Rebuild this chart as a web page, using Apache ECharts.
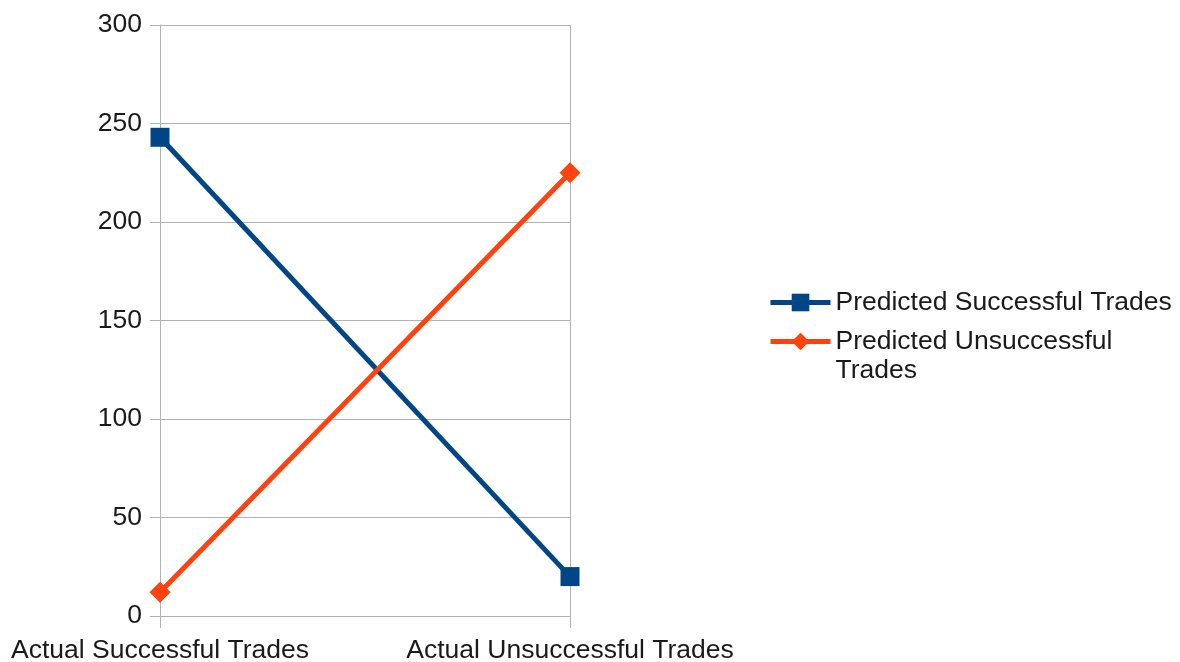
<!DOCTYPE html>
<html>
<head>
<meta charset="utf-8">
<script src="https://cdn.jsdelivr.net/npm/echarts@6/dist/echarts.min.js"></script>
<style>
  html, body { margin: 0; padding: 0; background: #ffffff; }
  #chart { width: 1180px; height: 662px; }
</style>
</head>
<body>
<div id="chart"></div>
<script>
// Confusion-style comparison of predicted vs. actual trade outcomes
const categories = ['Actual Successful Trades', 'Actual Unsuccessful Trades'];
const predictedSuccessful = [243, 20];
const predictedUnsuccessful = [12, 225];
const yTicks = { min: 0, max: 300, interval: 50 };

const FONT = 'Liberation Sans';
const FONT_SIZE = 26.5;
const TEXT = '#1a1a1a';
const GRID = '#b3b3b3';
const BLUE = '#004586';
const ORANGE = '#ff420e';

const chart = echarts.init(document.getElementById('chart'), null, { renderer: 'canvas' });

const legendCommon = {
  orient: 'vertical',
  left: 768,
  padding: 0,
  itemWidth: 60,
  itemHeight: 22,
  lineStyle: { width: 5 },
  textStyle: { color: TEXT, fontSize: FONT_SIZE, fontFamily: FONT, lineHeight: 29 }
};

chart.setOption({
  animation: false,
  backgroundColor: '#ffffff',
  textStyle: { fontFamily: FONT },
  grid: {
    left: 160, right: 610, top: 25, bottom: 46,
    containLabel: false,
    outerBoundsMode: 'none'
  },
  xAxis: {
    type: 'category',
    data: categories,
    boundaryGap: false,
    axisLine: { show: true, lineStyle: { color: GRID, width: 1 } },
    axisTick: { show: true, length: 12, lineStyle: { color: GRID } },
    axisLabel: { margin: 21, color: TEXT, fontSize: FONT_SIZE, fontFamily: FONT, interval: 0 },
    splitLine: { show: true, lineStyle: { color: GRID, width: 1 } }
  },
  yAxis: {
    type: 'value',
    min: yTicks.min,
    max: yTicks.max,
    interval: yTicks.interval,
    axisLine: { show: true, lineStyle: { color: GRID, width: 1 } },
    axisTick: { show: true, length: 10, lineStyle: { color: GRID } },
    axisLabel: { margin: 18, color: TEXT, fontSize: FONT_SIZE, fontFamily: FONT },
    splitLine: { show: true, lineStyle: { color: GRID, width: 1 } }
  },
  legend: [
    Object.assign({}, legendCommon, {
      top: 288,
      data: ['Predicted Successful Trades']
    }),
    Object.assign({}, legendCommon, {
      top: 298,
      data: ['Predicted Unsuccessful Trades'],
      // blank first line keeps the icon level with the first text line
      formatter: () => ' \nPredicted Unsuccessful\nTrades'
    })
  ],
  series: [
    {
      name: 'Predicted Successful Trades',
      type: 'line',
      data: predictedSuccessful,
      symbol: 'rect',
      symbolSize: 19,
      lineStyle: { color: BLUE, width: 5 },
      itemStyle: { color: BLUE },
      color: BLUE
    },
    {
      name: 'Predicted Unsuccessful Trades',
      type: 'line',
      data: predictedUnsuccessful,
      symbol: 'diamond',
      symbolSize: 21,
      lineStyle: { color: ORANGE, width: 5 },
      itemStyle: { color: ORANGE },
      color: ORANGE
    }
  ]
});
</script>
</body>
</html>
